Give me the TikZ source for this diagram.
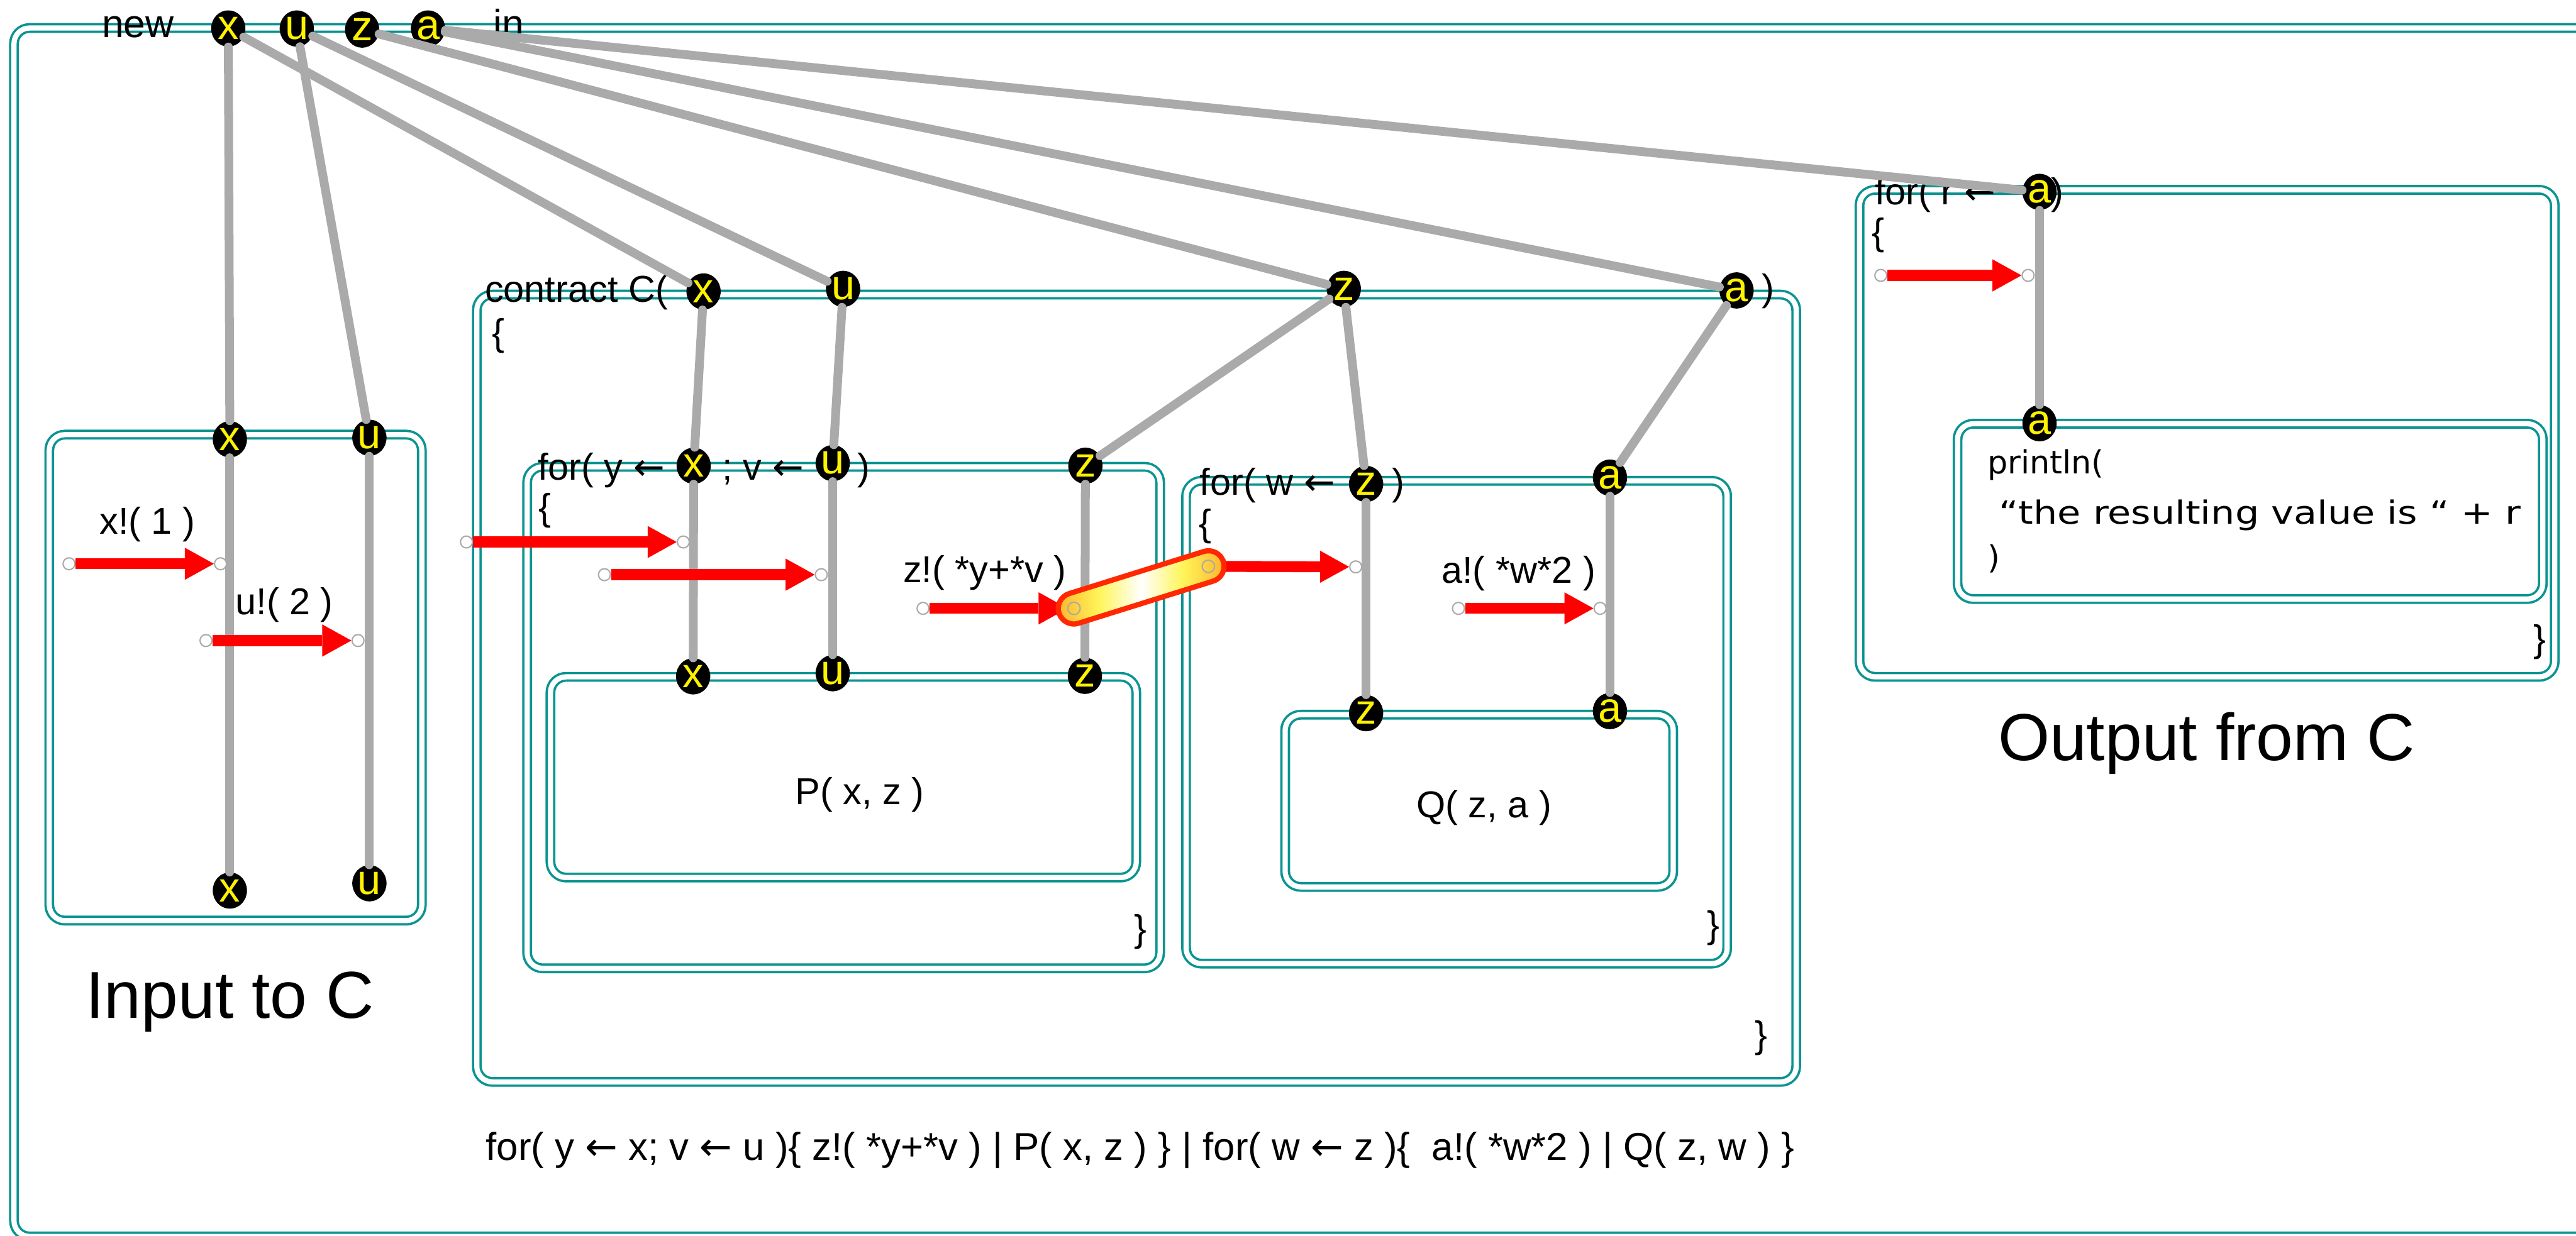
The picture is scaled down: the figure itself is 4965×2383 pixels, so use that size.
\documentclass[tikz,border=0pt]{standalone}
\usepackage{fontspec}
\usepackage{graphicx}
\setmainfont{Liberation Sans}
\newfontfamily\dejavu{DejaVu Sans}
\usetikzlibrary{arrows.meta,shapes.geometric}
\newdimen\pxu \pxu=0.01cm
\definecolor{boxteal}{RGB}{10,148,145}
\definecolor{wire}{RGB}{170,170,170}
\definecolor{capend}{RGB}{252,160,30}
\definecolor{capmid}{RGB}{255,245,90}
\definecolor{capedge}{RGB}{255,40,0}
\pgfdeclarehorizontalshading{capsuleshade}{100bp}{color(0bp)=(capend); color(22bp)=(capend); color(38bp)=(capmid); color(50bp)=(white); color(62bp)=(capmid); color(78bp)=(capend); color(100bp)=(capend)}
\tikzset{
  frame/.style={draw=boxteal, line width=4.5\pxu, double=white, double distance=10\pxu, rounded corners=30\pxu},
  chan/.style={ellipse, fill=black, minimum width=66\pxu, minimum height=70\pxu, inner sep=0pt, text=yellow, font=\fontsize{23}{23}\selectfont},
  wireline/.style={draw=wire, line width=17\pxu, line cap=round},
  port/.style={circle, draw=wire, fill=white, line width=2.5\pxu, minimum size=23\pxu, inner sep=0pt},
  ghostport/.style={circle, minimum size=23\pxu, inner sep=0pt},
  msg/.style={draw=red, line width=0.21cm, -{Triangle[length=0.56cm,width=0.62cm,line width=0pt]}},
  code/.style={font=\fontsize{20.5}{24}\selectfont, inner sep=0pt},
  big/.style={font=\fontsize{36.4}{40}\selectfont, inner sep=0pt},
  prn/.style={font=\dejavu\fontsize{17.5}{20}\selectfont, inner sep=0pt, anchor=base west}
}
\begin{document}
\begin{tikzpicture}[x=0.01cm, y=-0.01cm]
\path[use as bounding box] (0,0) rectangle (4965,2383);
\clip (0,0) rectangle (4965,2383);

% ---------- frames ----------
\draw[frame] (27,54) rectangle (5002,2384);
\draw[frame] (95,838) rectangle (813,1775);
\draw[frame] (919,568) rectangle (3462,2086);
\draw[frame] (1016,900) rectangle (2236,1867);
\draw[frame] (1061,1305) rectangle (2190,1692);
\draw[frame] (2286,927) rectangle (3329,1858);
\draw[frame] (2477,1378) rectangle (3225,1710);
\draw[frame] (3584,366) rectangle (4924,1305);
\draw[frame] (3773,817) rectangle (4901,1155);

% ---------- texts ----------
\node[code, anchor=base, font=\fontsize{21.5}{24}\selectfont] (tnew) at (266,72) {new};
\node[code, anchor=base west, font=\fontsize{21.5}{24}\selectfont] (tin) at (950,72) {in};

\node[code, anchor=base] (lx1) at (284,1030) {x!( 1 )};
\node[code, anchor=base] (lu2) at (548,1185) {u!( 2 )};
\node[big, anchor=base] (linput) at (443,1963) {Input to C};

\node[code, anchor=base west] (lcontract) at (934,583) {contract C(};
\node[code] (lcbrace) at (960,648) {\{};
\node[code, anchor=base west] (lcclose) at (3395,580) {)};
\node[code] (lcend) at (3395,2001) {\}};

\node[code, anchor=base west] (lfor1) at (1036,925) {for( y {\dejavu ←}};
\node[code, anchor=base west] (lfor2) at (1392,925) {; v {\dejavu ←}};
\node[code, anchor=base west] (lfor3) at (1652,925) {)};
\node[code] (lfbrace) at (1050,985) {\{};
\node[code] (lfend) at (2198,1797) {\}};
\node[code, anchor=base east] (lzmsg) at (2056,1123) {z!( *y+*v )};
\node[code] (lP) at (1657,1532) {P( x, z )};

\node[code, anchor=base west] (lforw) at (2312,954) {for( w {\dejavu ←}};
\node[code, anchor=base west] (lforwc) at (2682,954) {)};
\node[code] (lwbrace) at (2323,1015) {\{};
\node[code, anchor=base west] (lamsg) at (2778,1124) {a!( *w*2 )};
\node[code] (lwend) at (3303,1789) {\}};
\node[code] (lQ) at (2860,1558) {Q( z, a )};

\node[code, anchor=base west] (lforr) at (3613,394) {for( r {\dejavu ←}};
\node[code, anchor=base west] (lforrc) at (3953,394) {)};
\node[code] (lobrace) at (3620,454) {\{};
\node[code] (loend) at (4895,1238) {\}};
\node[prn] (lp1) at (3830,913) {println(};
\node[prn] (lp2) at (3852,1010) {\scalebox{1.19}[1]{“the resulting value is “ + r}};
\node[prn] (lp3) at (3830,1097) {)};
\node[big, anchor=base] (loutput) at (4253,1466) {Output from C};

\node[code, anchor=base west, font=\fontsize{21.3}{24}\selectfont] (lbottom) at (936,2237)
  {for( y {\dejavu ←} x; v {\dejavu ←} u )\{ z!( *y+*v ) | P( x, z ) \} | for( w {\dejavu ←} z )\{\ \ a!( *w*2 ) | Q( z, w ) \}};

% ---------- channel ends ----------
\node[chan] (tx) at (440,55) {x};
\node[chan] (tu) at (572,55) {u};
\node[chan] (tz) at (698,57) {z};
\node[chan] (ta) at (825,55) {a};

\node[chan] (ix1) at (443,847) {x};
\node[chan] (iu1) at (712,844) {u};
\node[chan] (ix2) at (443,1717) {x};
\node[chan] (iu2) at (712,1703) {u};

\node[chan] (cx) at (1356,562) {x};
\node[chan] (cu) at (1625,557) {u};
\node[chan] (cz) at (2590,557) {z};
\node[chan] (ca) at (3347,560) {a};

\node[chan] (fx) at (1337,898) {x};
\node[chan] (fu) at (1605,893) {u};
\node[chan] (fz) at (2092,898) {z};

\node[chan] (px) at (1336,1304) {x};
\node[chan] (pu) at (1605,1298) {u};
\node[chan] (pz) at (2091,1303) {z};

\node[chan] (wz) at (2633,933) {z};
\node[chan] (wa) at (3103,921) {a};
\node[chan] (qz) at (2633,1375) {z};
\node[chan] (qa) at (3103,1371) {a};

\node[chan] (oa) at (3931,370) {a};
\node[chan] (oia) at (3931,816) {a};

% ---------- wires ----------
\draw[wireline] (tx) -- (ix1);
\draw[wireline] (tu) -- (iu1);
\draw[wireline] (tx) -- (cx);
\draw[wireline] (tu) -- (cu);
\draw[wireline] (tz) -- (cz);
\draw[wireline] (ta) -- (ca);
\draw[wireline] (ta) -- (oa);
\draw[wireline] (ix1) -- (ix2);
\draw[wireline] (iu1) -- (iu2);
\draw[wireline] (cx) -- (fx);
\draw[wireline] (cu) -- (fu);
\draw[wireline] (cz) -- (fz);
\draw[wireline] (cz) -- (wz);
\draw[wireline] (ca) -- (wa);
\draw[wireline] (fx) -- (px);
\draw[wireline] (fu) -- (pu);
\draw[wireline] (fz) -- (pz);
\draw[wireline] (wz) -- (qz);
\draw[wireline] (wa) -- (qa);
\draw[wireline] (oa) -- (oia);

% ---------- messages ----------
\node[port] (s1) at (133,1087) {};
\node[port] (e1) at (425,1087) {};
\node[port] (s2) at (397,1235) {};
\node[port] (e2) at (690,1235) {};
\node[port] (s3) at (899,1045) {};
\node[port] (e3) at (1317,1045) {};
\node[port] (s4) at (1165,1108) {};
\node[port] (e4) at (1583,1108) {};
\node[port] (s5) at (1779,1173) {};
\node[ghostport] (k1) at (2070,1173) {};
\node[ghostport] (k2) at (2329,1092) {};
\node[port] (e6) at (2613,1093) {};
\node[port] (s7) at (2811,1173) {};
\node[port] (e7) at (3084,1173) {};
\node[port] (s8) at (3625,531) {};
\node[port] (e8) at (3909,531) {};

\draw[msg] (s1) -- (e1);
\draw[msg] (s2) -- (e2);
\draw[msg] (s3) -- (e3);
\draw[msg] (s4) -- (e4);
\draw[msg] (s5) -- (k1);
\draw[msg] (k2) -- (e6);
\draw[msg] (s7) -- (e7);
\draw[msg] (s8) -- (e8);

% ---------- capsule (linked send/receive) ----------
\begin{scope}[shift={(2199.5,1132.5)}, rotate=17.37]
  \shadedraw[shading=capsuleshade, draw=capedge, line width=10\pxu, rounded corners=30\pxu] (-166,-30) rectangle (166,30);
\end{scope}
\draw[draw=wire, line width=2.5\pxu] (k1) circle[radius=12\pxu];
\draw[draw=wire, line width=2.5\pxu] (k2) circle[radius=12\pxu];
\end{tikzpicture}
\end{document}
